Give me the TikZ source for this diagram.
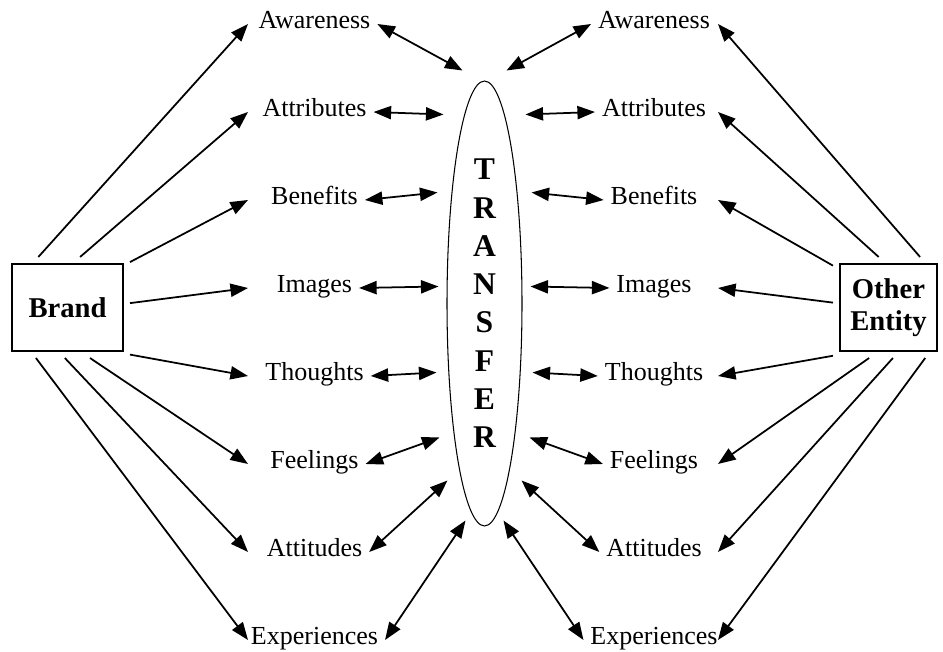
\documentclass[tikz,border=0pt]{standalone}
\usepackage{fontspec}
\setmainfont{Liberation Serif}
\usetikzlibrary{shapes.geometric,arrows.meta,calc}
\tikzset{
    linkarrow/.style={
        line width=1pt,
        black,
        -{Triangle[length=10pt, width=7.5pt]}
    },
    % double arrows to the transfer ellipse
    swaparrow/.style={
        line width=1pt,
        black,
        {Triangle[length=10pt, width=7.5pt]}-{Triangle[length=10pt, width=7.5pt]}
    },
    itemlabel/.style={
        font=\fontsize{14.8}{17}\selectfont,
        inner sep=0pt, outer sep=4pt,
        text height=0.7em, text depth=0.2em
    },
    entitybox/.style={
        draw, rectangle, line width=1.1pt,
        font=\fontsize{16.3}{18.2}\selectfont\bfseries,
        align=center, inner sep=0pt, outer sep=4pt,
        minimum height=1.74cm
    }
}

\begin{document}
\begin{tikzpicture}[x=0.02cm,y=0.02cm]
	\useasboundingbox (0,0) rectangle (943,652);
	
	% boxes and ellipse
	\node[entitybox, minimum width=2.22cm] (brand) at (67.5,344.5) {Brand};
	\node[entitybox, minimum width=1.94cm] (other) at (888.5,344.5) {Other\\Entity};
	\node[draw, ellipse, line width=0.6pt, inner sep=0pt,
	      minimum width=1.5cm, minimum height=8.9cm, align=center,
	      font=\fontsize{18}{21.8}\selectfont\bfseries]
	      (transfer) at (484.5,348.5) {T\\R\\A\\N\\S\\F\\E\\R};
	
	% labels
	\foreach \name/\lab [count=\i] in {aware/Awareness, attr/Attributes,
	    bene/Benefits, img/Images, thou/Thoughts, feel/Feelings,
	    atti/Attitudes, expe/Experiences}
	{
	    \node[itemlabel] (l-\name) at (314.5,{628-88*(\i-1)}) {\lab};
	    \node[itemlabel] (r-\name) at (654,{628-88*(\i-1)}) {\lab};
	}
	
	% free ends near the ellipse
	\foreach \dx/\dy [count=\i] in {22/233, 41/189, 47/111, 46/17,
	    48/-69, 45/-134, 37/-177, 19/-217}
	{
	    \coordinate (tl-\i) at ($(transfer.center)+(-\dx,\dy)$);
	    \coordinate (tr-\i) at ($(transfer.center)+(\dx,\dy)$);
	}
	\coordinate (lend) at (248,0);
	\coordinate (rend) at (718,0);
	
	% arrows from the brand
	\foreach \name/\ang in {aware/120, attr/76, bene/36, img/4,
	    thou/323, feel/294, atti/267, expe/238}
	    \draw[linkarrow] (brand.\ang) -- (l-\name.west -| lend);
	
	% arrows from the other entity
	\foreach \name/\ang in {aware/58, attr/101, bene/143, img/175,
	    thou/221, feel/249, atti/275, expe/306}
	    \draw[linkarrow] (other.\ang) -- (r-\name.east -| rend);
	
	% double arrows
	\foreach \name [count=\i] in {aware, attr, bene, img, thou, feel, atti, expe}
	{
	    \draw[swaparrow] (l-\name.east) -- (tl-\i);
	    \draw[swaparrow] (r-\name.west) -- (tr-\i);
	}
\end{tikzpicture}
\end{document}
